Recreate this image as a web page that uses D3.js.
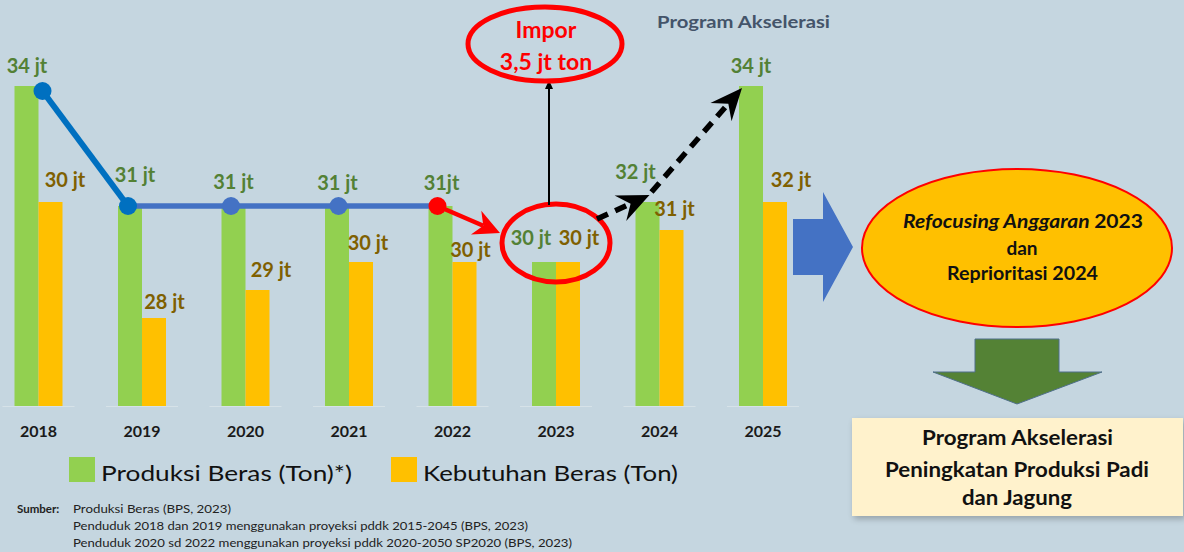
<!DOCTYPE html>
<html><head><meta charset="utf-8">
<script src="https://cdn.jsdelivr.net/npm/d3@7"></script>
<style>
html,body{margin:0;padding:0;background:#c5d6e0;}
svg{display:block;}
text{font-family:Lato,"Open Sans",sans-serif;}
</style></head><body>
<svg id="c" width="1184" height="552"></svg>
<script>
// ---- data ----
const years = ["2018","2019","2020","2021","2022","2023","2024","2025"];
const produksi = [34.0, 31.0, 31.0, 31.0, 31.0, 29.6, 31.1, 34.0];      // bar heights (jt ton, as drawn)
const kebutuhan = [31.1, 28.2, 28.9, 29.6, 29.6, 29.6, 30.4, 31.1];     // bar heights (jt ton, as drawn)
const produksiLabels = ["34 jt","31 jt","31 jt","31 jt","31jt","30 jt","32 jt","34 jt"];
const kebutuhanLabels = ["30 jt","28 jt","29 jt","30 jt","30 jt","30 jt","31 jt","32 jt"];
const lineYears = ["2018","2019","2020","2021","2022"];
const seriesNames = ["Produksi Beras (Ton)*)","Kebutuhan Beras (Ton)"];
const sources = ["Produksi Beras (BPS, 2023)",
  "Penduduk 2018 dan 2019 menggunakan proyeksi pddk 2015-2045 (BPS, 2023)",
  "Penduduk 2020 sd 2022 menggunakan  proyeksi pddk 2020-2050 SP2020  (BPS, 2023)"];

// ---- layout ----
const gDx = [0.5, 5, 0, 0.5, 1, -13, -12, 0], gDy = [13, 24, 17, 16, 16, 17, 23, 13];
const kDx = [14.5, 10.5, 13.5, 7, 6, 11, 3, 16], kDy = [15, 9, 13, 12, 5, 17, 14, 15];
const dotDx = [16, -2, -2.5, 1.5, -3];
const colG = "#92d050", colY = "#ffc000", txtG = "#538135", txtY = "#7f6000";
const bw = 24;

const svg = d3.select("#c");
const x = d3.scalePoint().domain(years).range([38.5, 763]);
const y = d3.scaleLinear().domain([26, 34]).range([406, 86]);
const base = y.range()[0];

const defs = svg.append("defs");
const f = defs.append("filter").attr("id","sh").attr("x","-10%").attr("y","-10%").attr("width","130%").attr("height","140%");
f.append("feGaussianBlur").attr("in","SourceAlpha").attr("stdDeviation",3);
f.append("feOffset").attr("dx",2).attr("dy",3).attr("result","o");
f.append("feComponentTransfer").append("feFuncA").attr("type","linear").attr("slope",0.25);
const fm = f.append("feMerge"); fm.append("feMergeNode"); fm.append("feMergeNode").attr("in","SourceGraphic");

// baseline faint segments
svg.append("g").selectAll("line").data(years).join("line")
  .attr("x1", d => x(d) - 36).attr("x2", d => x(d) + 36)
  .attr("y1", base + 0.5).attr("y2", base + 0.5)
  .attr("stroke", "#d6e2e8").attr("stroke-width", 1);

// bars
const gb = svg.append("g");
gb.selectAll("rect.g").data(years).join("rect").attr("class","g")
  .attr("x", d => x(d) - bw).attr("width", bw)
  .attr("y", (d,i) => y(produksi[i])).attr("height", (d,i) => base - y(produksi[i]))
  .attr("fill", colG);
gb.selectAll("rect.k").data(years).join("rect").attr("class","k")
  .attr("x", d => x(d)).attr("width", bw)
  .attr("y", (d,i) => y(kebutuhan[i])).attr("height", (d,i) => base - y(kebutuhan[i]))
  .attr("fill", colY);

// year axis labels
svg.append("g").selectAll("text").data(years).join("text")
  .attr("x", d => x(d)).attr("y", 437).attr("text-anchor","middle")
  .attr("font-size", 16).attr("font-weight", 700).attr("fill", "#1a1a1a").text(d => d);

// arrow helper (stealth head)
function arrow(g, x1, y1, x2, y2, o) {
  const ang = Math.atan2(y2 - y1, x2 - x1);
  const L = o.L, W = o.W, notch = o.notch == null ? 0.35 : o.notch;
  const ex = x2 - Math.cos(ang) * L * (1 - notch) , ey = y2 - Math.sin(ang) * L * (1 - notch);
  g.append("line").attr("x1", x1).attr("y1", y1).attr("x2", ex).attr("y2", ey)
    .attr("stroke", o.color).attr("stroke-width", o.w)
    .attr("stroke-dasharray", o.dash || null);
  const bx = x2 - Math.cos(ang) * L, by = y2 - Math.sin(ang) * L;
  const px = -Math.sin(ang), py = Math.cos(ang);
  const nx = x2 - Math.cos(ang) * L * (1 - notch), ny = y2 - Math.sin(ang) * L * (1 - notch);
  g.append("path").attr("d", `M${x2},${y2}L${bx + px*W},${by + py*W}L${nx},${ny}L${bx - px*W},${by - py*W}Z`)
    .attr("fill", o.color);
}

// trend line 2018-2022
const lp = lineYears.map((yr, i) => [x(yr) - bw/2 + dotDx[i], y(produksi[years.indexOf(yr)]) + (i === 0 ? 5 : 0)]);
const lg = svg.append("g");
lg.append("line").attr("x1", lp[0][0]).attr("y1", lp[0][1]).attr("x2", lp[1][0]).attr("y2", lp[1][1])
  .attr("stroke", "#0070c0").attr("stroke-width", 6);
lg.append("path").attr("d", d3.line()(lp.slice(1))).attr("fill","none")
  .attr("stroke", "#4472c4").attr("stroke-width", 5.5);
lg.selectAll("circle").data(lp).join("circle")
  .attr("cx", d => d[0]).attr("cy", d => d[1]).attr("r", 9)
  .attr("fill", (d,i) => i === 4 ? "#ff0000" : (i < 2 ? "#0070c0" : "#4472c4"));

// value labels
svg.append("g").selectAll("text").data(years).join("text")
  .attr("x", (d,i) => x(d) - bw/2 + gDx[i]).attr("y", (d,i) => y(produksi[i]) - gDy[i])
  .attr("text-anchor","middle").attr("font-size", 20).attr("font-weight", 700)
  .attr("fill", txtG).text((d,i) => produksiLabels[i]);
svg.append("g").selectAll("text").data(years).join("text")
  .attr("x", (d,i) => x(d) + bw/2 + kDx[i]).attr("y", (d,i) => y(kebutuhan[i]) - kDy[i])
  .attr("text-anchor","middle").attr("font-size", 20).attr("font-weight", 700)
  .attr("fill", txtY).text((d,i) => kebutuhanLabels[i]);

// annotations around 2023
const ann = svg.append("g");
const c23 = x("2023"), c24 = x("2024"), c25 = x("2025");
const l22 = lp[4];
arrow(ann, l22[0], l22[1], c23 - 56, y(29.6) - 29, {L: 26, W: 13, w: 4.5, color: "#ff0000", notch: 0.3});
ann.append("ellipse").attr("cx", c23).attr("cy", y(29.6) - 19).attr("rx", 54).attr("ry", 39)
  .attr("fill","none").attr("stroke","#ff0000").attr("stroke-width", 5);
arrow(ann, c23 - 7, y(29.6) - 57, c23 - 7, 80, {L: 9, W: 4, w: 2, color: "#000", notch: 0});
ann.append("ellipse").attr("cx", c23 - 11).attr("cy", 44).attr("rx", 77).attr("ry", 37)
  .attr("fill","none").attr("stroke","#ff0000").attr("stroke-width", 5);
ann.append("text").attr("x", c23 - 10).attr("y", 38).attr("text-anchor","middle")
  .attr("font-size", 23).attr("font-weight", 700).attr("fill","#ff0000").text("Impor");
ann.append("text").attr("x", c23 - 10).attr("y", 70).attr("text-anchor","middle")
  .attr("font-size", 23).attr("font-weight", 700).attr("fill","#ff0000").text("3,5 jt ton");
arrow(ann, c23 + 41, y(29.6) - 43, c24 - 10, y(31.1) - 7, {L: 32, W: 14, w: 5.5, color: "#000", dash: "12,8", notch: 0.35});
arrow(ann, c24 - 8, y(31.1) - 10, c25 - 21, y(34) + 2, {L: 32, W: 14, w: 5.5, color: "#000", dash: "12,8", notch: 0.35});
ann.append("text").attr("x", 657).attr("y", 28).attr("font-size", 17).attr("font-weight", 700)
  .attr("fill", "#44546a").attr("textLength", 173).attr("lengthAdjust","spacingAndGlyphs").text("Program Akselerasi");

// right panel
const rp = svg.append("g");
rp.append("path").attr("d", "M793,219L823,219L823,192L853,247L823,302L823,275L793,275Z")
  .attr("fill", "#4472c4");
rp.append("ellipse").attr("cx", 1017).attr("cy", 248).attr("rx", 155).attr("ry", 79)
  .attr("fill", "#ffc000").attr("stroke", "#ff0000").attr("stroke-width", 2);
const t1 = rp.append("text").attr("x", 903).attr("y", 228)
  .attr("font-size", 19).attr("font-weight", 700).attr("fill","#111")
  .attr("textLength", 240).attr("lengthAdjust","spacingAndGlyphs");
t1.append("tspan").attr("font-style","italic").text("Refocusing Anggaran ");
t1.append("tspan").text("2023");
rp.append("text").attr("x", 1022).attr("y", 255).attr("text-anchor","middle")
  .attr("font-size", 19).attr("font-weight", 700).attr("fill","#111").text("dan");
rp.append("text").attr("x", 947).attr("y", 280)
  .attr("font-size", 19).attr("font-weight", 700).attr("fill","#111")
  .attr("textLength", 151).attr("lengthAdjust","spacingAndGlyphs").text("Reprioritasi 2024");
rp.append("path").attr("d", "M975,339L1059,339L1059,372L1102,372L1017,404L933,372L975,372Z")
  .attr("fill", "#548235").attr("stroke", "#4f6f8a").attr("stroke-width", 1);
rp.append("rect").attr("x", 852).attr("y", 418).attr("width", 331).attr("height", 98)
  .attr("fill", "#fff2cc").attr("filter","url(#sh)");
[["Program Akselerasi",445,922,191],["Peningkatan Produksi Padi",477,885,264],["dan Jagung",505,962,110]].forEach(([t,yy,xx,w]) => {
  rp.append("text").attr("x", xx).attr("y", yy)
    .attr("font-size", 21).attr("font-weight", 700).attr("fill","#111")
    .attr("textLength", w).attr("lengthAdjust","spacingAndGlyphs").text(t);
});

// legend
const leg = svg.append("g");
const legX = [69, 391], legW = [251, 255];
seriesNames.forEach((n, i) => {
  leg.append("rect").attr("x", legX[i]).attr("y", 457).attr("width", 26).attr("height", 25)
    .attr("fill", i === 0 ? colG : colY);
  leg.append("text").attr("x", legX[i] + 32).attr("y", 481).attr("font-size", 22)
    .attr("fill", "#111").attr("textLength", legW[i]).attr("lengthAdjust","spacingAndGlyphs").text(n);
});

// sources
const src = svg.append("g");
src.append("text").attr("x", 17).attr("y", 513).attr("font-size", 11.5).attr("font-weight", 700)
  .attr("fill", "#222").text("Sumber:");
const srcW = [158, 455, 499];
sources.forEach((s, i) => {
  src.append("text").attr("x", 73).attr("y", 513 + i * 17).attr("font-size", 11.5)
    .attr("fill", "#222").attr("textLength", srcW[i]).attr("lengthAdjust","spacingAndGlyphs").text(s);
});
</script>
</body></html>
